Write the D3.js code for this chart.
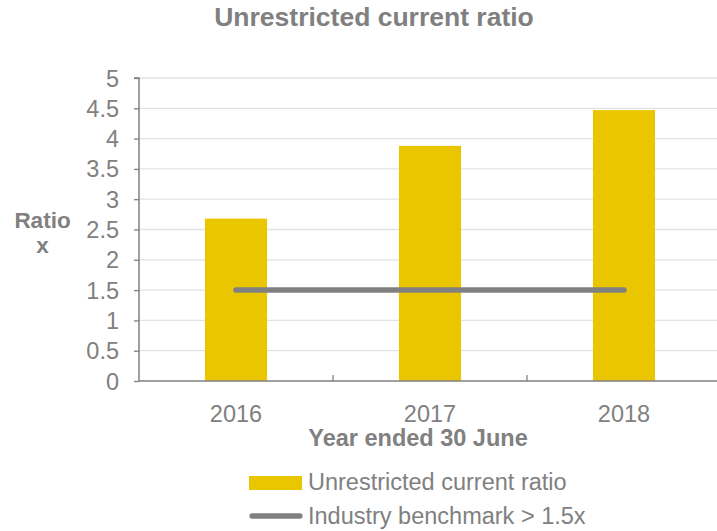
<!DOCTYPE html>
<html><head><meta charset="utf-8">
<script src="https://cdn.jsdelivr.net/npm/d3@7/dist/d3.min.js"></script>
<style>body{margin:0;background:#fff;}svg{display:block;font-family:"Liberation Sans",Arial,sans-serif;}</style>
</head><body>
<svg id="c" width="717" height="531"></svg>
<script>
const categories = ["2016", "2017", "2018"];
const ratioValues = [2.68, 3.88, 4.47];
const benchmarkValues = [1.5, 1.5, 1.5];
const yTicks = [0, 0.5, 1, 1.5, 2, 2.5, 3, 3.5, 4, 4.5, 5];
const seriesNames = ["Unrestricted current ratio", "Industry benchmark > 1.5x"];

const svg = d3.select("#c");
const grey = "#808080";
const yellow = "#E9C600";
const FONT = "Liberation Sans, Arial, sans-serif";
const pLeft = 139, pRight = 721, pTop = 78, pBottom = 381;

const x = d3.scaleBand().domain(categories).range([pLeft, pRight]).paddingInner(0.68).paddingOuter(0.34);
const y = d3.scaleLinear().domain([0, 5]).range([pBottom, pTop]);

// gridlines
svg.append("g").selectAll("line").data(yTicks.filter(d => d > 0)).join("line")
  .attr("x1", pLeft).attr("x2", 717).attr("y1", d => y(d)).attr("y2", d => y(d))
  .attr("stroke", "#e3e3e3").attr("stroke-width", 1.3);

// bars
svg.append("g").selectAll("rect").data(ratioValues).join("rect")
  .attr("x", (d, i) => x(categories[i])).attr("width", x.bandwidth())
  .attr("y", d => y(d)).attr("height", d => y(0) - y(d)).attr("fill", yellow);

// y axis
const yAxis = svg.append("g").attr("transform", `translate(${pLeft},0)`)
  .call(d3.axisLeft(y).tickValues(yTicks).tickSize(5).tickPadding(15).tickFormat(d3.format("")));
yAxis.select(".domain").attr("stroke", grey).attr("stroke-width", 1.5).attr("d", `M-5,${pTop}H0V${pBottom}`);
yAxis.selectAll(".tick line").attr("stroke", grey).attr("stroke-width", 1.3);
yAxis.selectAll("text").attr("fill", grey).attr("font-size", 23.5).attr("font-family", FONT).attr("dy", "0.34em");

// x axis
const xAxis = svg.append("g").attr("transform", `translate(0,${pBottom})`)
  .call(d3.axisBottom(x).tickSize(0));
xAxis.select(".domain").attr("stroke", grey).attr("stroke-width", 1.5).attr("d", `M${pLeft},0H717`);
xAxis.selectAll("text").attr("fill", grey).attr("font-size", 23.5).attr("font-family", FONT)
  .attr("y", 41).attr("dy", null);
xAxis.selectAll(".sep").data(categories.slice(1)).join("line").attr("class", "sep")
  .attr("x1", d => x(d) - x.step() * x.paddingInner() / 2).attr("x2", d => x(d) - x.step() * x.paddingInner() / 2)
  .attr("y1", 0).attr("y2", -6).attr("stroke", grey).attr("stroke-width", 1.3);

// benchmark line
const line = d3.line().x((d, i) => x(categories[i]) + x.bandwidth() / 2).y(d => y(d));
svg.append("path").datum(benchmarkValues).attr("d", line)
  .attr("fill", "none").attr("stroke", grey).attr("stroke-width", 5.5).attr("stroke-linecap", "round");

// title
svg.append("text").attr("x", 374).attr("y", 26).attr("text-anchor", "middle")
  .attr("font-size", 26.5).attr("font-weight", "bold").attr("fill", grey).text("Unrestricted current ratio");

// y axis title (two lines)
svg.append("text").attr("x", 42.5).attr("y", 227.5).attr("text-anchor", "middle")
  .attr("font-size", 22.5).attr("font-weight", "bold").attr("fill", grey).text("Ratio");
svg.append("text").attr("x", 42.5).attr("y", 253).attr("text-anchor", "middle")
  .attr("font-size", 22.5).attr("font-weight", "bold").attr("fill", grey).text("x");

// x axis title
svg.append("text").attr("x", 418).attr("y", 446).attr("text-anchor", "middle")
  .attr("font-size", 23.5).attr("font-weight", "bold").attr("fill", grey).text("Year ended 30 June");

// legend
const lg = svg.append("g");
lg.append("rect").attr("x", 249).attr("y", 476).attr("width", 53).attr("height", 14).attr("fill", yellow);
lg.append("text").attr("x", 308).attr("y", 490).attr("font-size", 23.5).attr("fill", grey).text(seriesNames[0]);
lg.append("line").attr("x1", 252).attr("x2", 300).attr("y1", 516).attr("y2", 516)
  .attr("stroke", grey).attr("stroke-width", 5.3).attr("stroke-linecap", "round");
lg.append("text").attr("x", 308).attr("y", 524).attr("font-size", 23.5).attr("fill", grey).text(seriesNames[1]);
</script>
</body></html>
